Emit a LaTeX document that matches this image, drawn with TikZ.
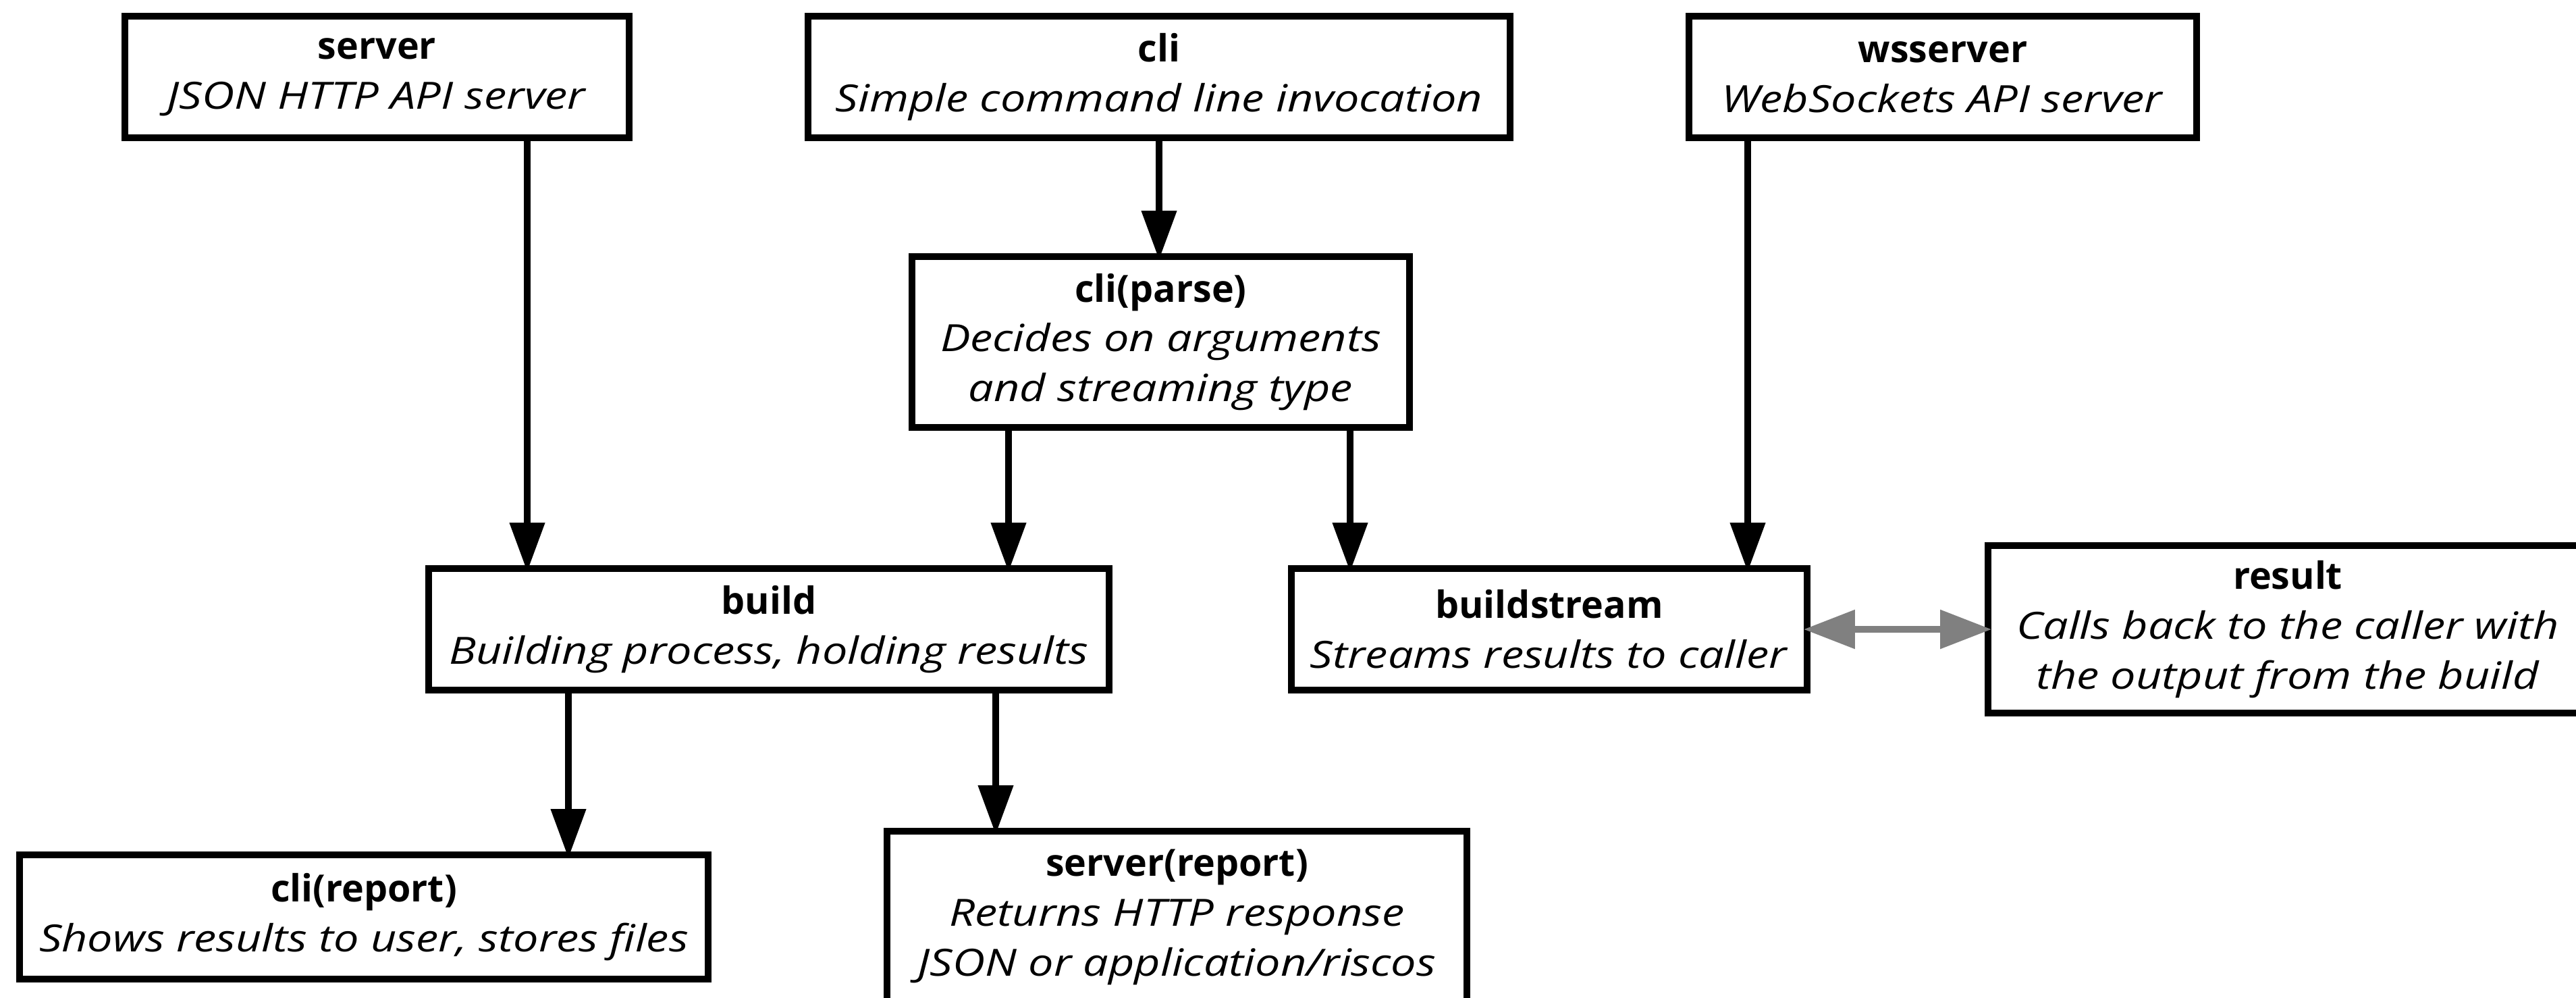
\documentclass[tikz,border=0pt]{standalone}
\usepackage{fontspec}
\setmainfont{Open Sans}[ItalicFeatures={FakeStretch=1.2}]
\usetikzlibrary{arrows.meta,positioning}
\definecolor{linkgrey}{HTML}{808080}

\begin{document}
\begin{tikzpicture}[
    box/.style={draw, line width=2.8pt, align=center, inner sep=0pt,
                font=\fontsize{15.8}{21}\selectfont},
    arr/.style={-{Triangle[length=7.3mm, width=5mm]}, line width=3pt, shorten >=-1mm},
    link/.style={{Triangle[length=7.6mm, width=5.6mm]}-{Triangle[length=7.6mm, width=5.6mm]},
                 line width=2.6pt, linkgrey, shorten >=-1mm, shorten <=-1mm}]
    \useasboundingbox (0,0) rectangle (38.16,-14.78);
    \clip (0,0) rectangle (38.16,-14.78);
    % entry points
    \node[box, minimum width=7.47cm, minimum height=1.8cm] (server) at (5.585,-1.14)
        {\textbf{server}\\\textit{JSON HTTP API server}};
    \node[box, minimum width=10.4cm, minimum height=1.8cm] (cli) at (17.17,-1.14)
        {\textbf{cli}\\\textit{Simple command line invocation}};
    \node[box, minimum width=7.52cm, minimum height=1.8cm] (wsserver) at (28.78,-1.14)
        {\textbf{wsserver}\\\textit{WebSockets API server}};
    \node[box, minimum width=7.37cm, minimum height=2.53cm] (cliparse) at (17.195,-5.065)
        {\textbf{cli(parse)}\\\textit{Decides on arguments}\\\textit{and streaming type}};
    % building
    \node[box, minimum width=10.08cm, minimum height=1.8cm] (build) at (11.39,-9.32)
        {\textbf{build}\\\textit{Building process, holding results}};
    \node[box, minimum width=7.64cm, minimum height=1.8cm] (buildstream) at (22.95,-9.32)
        {\textbf{buildstream}\\\textit{Streams results to caller}};
    \node[box, minimum width=8.88cm, minimum height=2.48cm] (result) at (33.89,-9.32)
        {\textbf{result}\\\textit{Calls back to the caller with}\\\textit{the output from the build}};
    % reporting
    \node[box, minimum width=10.2cm, minimum height=1.84cm] (clireport) at (5.39,-13.58)
        {\textbf{cli(report)}\\\textit{Shows results to user, stores files}};
    \node[box, minimum width=8.59cm, minimum height=2.54cm] (serverreport) at (17.435,-13.58)
        {\textbf{server(report)}\\\textit{Returns HTTP response}\\\textit{JSON or application/riscos}};
    \draw[arr] ([xshift=2.225cm]server.south) -- ([xshift=2.225cm]server.south |- build.north);
    \draw[arr] (cli.south) -- (cli.south |- cliparse.north);
    \draw[arr] ([xshift=-2.255cm]cliparse.south) -- ([xshift=-2.255cm]cliparse.south |- build.north);
    \draw[arr] ([xshift=2.805cm]cliparse.south) -- ([xshift=2.805cm]cliparse.south |- buildstream.north);
    \draw[arr] ([xshift=-2.89cm]wsserver.south) -- ([xshift=-2.89cm]wsserver.south |- buildstream.north);
    \draw[arr] ([xshift=-2.97cm]build.south) -- ([xshift=-2.97cm]build.south |- clireport.north);
    \draw[arr] ([xshift=3.36cm]build.south) -- ([xshift=3.36cm]build.south |- serverreport.north);
    \draw[link] (buildstream.east) -- (result.west);
\end{tikzpicture}
\end{document}
